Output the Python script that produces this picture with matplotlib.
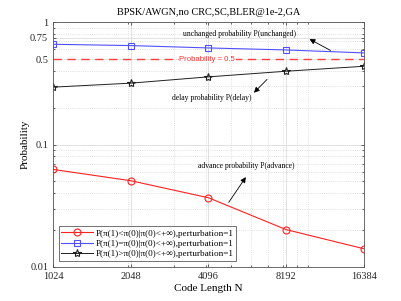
import matplotlib.pyplot as plt
from matplotlib.ticker import NullFormatter

plt.rcParams['font.family'] = ['Liberation Serif', 'DejaVu Serif']
plt.rcParams['mathtext.fontset'] = 'stix'

# code lengths
code_len = [1024, 2048, 4096, 8192, 16384]

# probabilities
p_advance = [0.0627, 0.0507, 0.0368, 0.0202, 0.0141]
p_unchanged = [0.661, 0.645, 0.617, 0.594, 0.562]
p_delay = [0.295, 0.318, 0.358, 0.398, 0.437]

y_ticks = [0.01, 0.1, 0.5, 0.75, 1]
y_tick_labels = ['0.01', '0.1', '0.5', '0.75', '1']

labels = ['P(π(1)<π(0)|π(0)<+∞),perturbation=1',
          'P(π(1)=π(0)|π(0)<+∞),perturbation=1',
          'P(π(1)>π(0)|π(0)<+∞),perturbation=1']

fig = plt.figure(figsize=(4.02, 3.01), dpi=100)
ax = fig.add_axes([0.132, 0.113, 0.773, 0.813])

ax.plot(code_len, p_advance, color='#ff2020', lw=0.8, marker='o', ms=5,
        mfc='none', mew=0.8, label=labels[0])
ax.plot(code_len, p_unchanged, color='#5050ff', lw=0.8, marker='s', ms=5,
        mfc='none', mew=0.8, label=labels[1])
ax.plot(code_len, p_delay, color='#202020', lw=0.7, marker='*', ms=6,
        mfc='none', mew=0.8, label=labels[2])

ax.axhline(0.5, color='#ff4040', ls=(0, (6, 4)), lw=1.0)
ax.text(4050, 0.5, 'Probability = 0.5', color='#ff3030', fontsize=5.6,
        family=['Liberation Sans', 'DejaVu Sans'], ha='center', va='center',
        bbox=dict(fc='white', ec='none', pad=0.5))

ax.set_xscale('log')
ax.set_yscale('log')
ax.set_xlim(1024, 16384)
ax.set_ylim(0.01, 1)
ax.set_xticks(code_len)
ax.set_xticklabels([str(n) for n in code_len])
ax.set_xticks([2000, 3000, 4000, 5000, 6000, 7000, 8000, 9000, 10000], minor=True)
ax.xaxis.set_minor_formatter(NullFormatter())
ax.set_yticks(y_ticks)
ax.set_yticklabels(y_tick_labels)
ax.yaxis.set_minor_formatter(NullFormatter())
ax.tick_params(which='both', direction='in', top=True, right=True,
               labelsize=7.5, length=2.5, width=0.5, colors='#262626')
ax.tick_params(which='minor', length=1.5)
ax.grid(True, which='major', color='#dddddd', lw=0.6)
ax.grid(True, which='minor', color='#cccccc', lw=0.5, ls=':')
for s in ax.spines.values():
    s.set_color('#555555')
    s.set_linewidth(0.6)

ax.set_title('BPSK/AWGN,no CRC,SC,BLER@1e-2,GA', fontsize=7.4, pad=5)
ax.set_xlabel('Code Length N', fontsize=8, labelpad=2)
ax.set_ylabel('Probability', fontsize=8, labelpad=0.5)

arrow = dict(arrowstyle='-|>', color='black', lw=0.6, mutation_scale=8)
ax.annotate('', xy=(9880, 0.747), xytext=(12440, 0.574), arrowprops=arrow)
ax.text(5400, 0.805, 'unchanged probability P(unchanged)', fontsize=5.5,
        ha='center', va='center')
ax.annotate('', xy=(6040, 0.256), xytext=(7030, 0.354), arrowprops=arrow)
ax.text(4230, 0.239, 'delay probability P(delay)', fontsize=5.5,
        ha='center', va='center')
ax.annotate('', xy=(5800, 0.0567), xytext=(4840, 0.0323), arrowprops=arrow)
ax.text(5730, 0.0673, 'advance probability P(advance)', fontsize=5.5,
        ha='center', va='center')

leg = ax.legend(loc='lower left', fontsize=6.6, frameon=True, fancybox=False,
                edgecolor='#333333', borderpad=0.3, labelspacing=0.2,
                handlelength=3.4, handletextpad=0.3, borderaxespad=0.0,
                bbox_to_anchor=(0.018, 0.025))
leg.get_frame().set_linewidth(0.6)

fig.savefig('out.png', dpi=100)
